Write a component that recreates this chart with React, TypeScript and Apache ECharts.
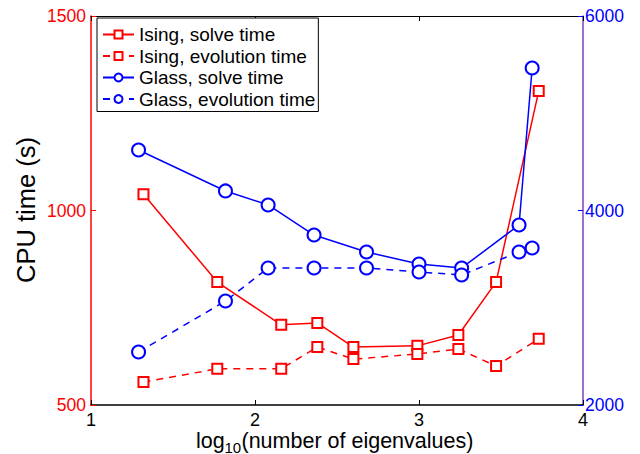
import React, { useEffect, useRef } from "react";
import * as echarts from "echarts";

const isingX = [1.32, 1.77, 2.16, 2.38, 2.6, 2.99, 3.24, 3.47, 3.73];
const isingSolve = [1042, 816, 706, 711, 649, 652, 680, 816, 1307];
const isingEvolution = [559, 593, 593, 649, 618, 631, 644, 600, 670];
const glassX = [1.29, 1.82, 2.08, 2.36, 2.68, 3.0, 3.26, 3.61, 3.69];
const glassSolve = [4622, 4201, 4057, 3748, 3573, 3450, 3409, 3851, 5465];
const glassEvolution = [2545, 3069, 3409, 3409, 3409, 3368, 3337, 3573, 3614];

const leftTicks = { min: 500, max: 1500, interval: 500 };
const rightTicks = { min: 2000, max: 6000, interval: 2000 };
const xTicks = { min: 1, max: 4, interval: 1 };

const pairs = (xs: number[], ys: number[]) => xs.map((x, i) => [x, ys[i]]);

const FONT = "Liberation Sans";
const plain = (v: number) => String(v);

export default function App() {
  const ref = useRef<HTMLDivElement>(null);
  useEffect(() => {
    if (!ref.current) return;
    const chart = echarts.init(ref.current, null, { renderer: "svg" });
    const red = "#ff0000";
    const blue = "#0000ff";
    const lineCommon = { width: 1.5 };
    chart.setOption({
      animation: false,
      backgroundColor: "#fff",
      textStyle: { fontFamily: FONT },
      grid: { left: 91, right: 57, top: 16, bottom: 49, containLabel: false },
      xAxis: [
        {
          type: "value",
          ...xTicks,
          position: "bottom",
          axisLine: { lineStyle: { color: "#000", width: 1.5 } },
          axisTick: { inside: true, length: 5, lineStyle: { color: "#000" } },
          axisLabel: { color: "#000", fontSize: 18, margin: 6, fontFamily: FONT, formatter: plain },
          splitLine: { show: false },
        },
        {
          type: "value",
          ...xTicks,
          position: "top",
          axisLine: { lineStyle: { color: "#000", width: 1 } },
          axisTick: { inside: true, length: 5, lineStyle: { color: "#000" } },
          axisLabel: { show: false },
          splitLine: { show: false },
        },
      ],
      yAxis: [
        {
          type: "value",
          ...leftTicks,
          position: "left",
          axisLine: { show: true, lineStyle: { color: red, width: 1.5 } },
          axisTick: { show: true, inside: true, length: 5, lineStyle: { color: red } },
          axisLabel: { color: red, fontSize: 17.5, margin: 5, fontFamily: FONT, formatter: plain },
          splitLine: { show: false },
        },
        {
          type: "value",
          ...rightTicks,
          position: "right",
          axisLine: { show: true, lineStyle: { color: "#7f3fbf", width: 1.5 } },
          axisTick: { show: true, inside: true, length: 5, lineStyle: { color: blue } },
          axisLabel: { color: blue, fontSize: 17.5, margin: 2, fontFamily: FONT, formatter: plain },
          splitLine: { show: false },
        },
      ],
      legend: {
        orient: "vertical",
        left: 97,
        top: 18,
        backgroundColor: "#fff",
        borderColor: "#000",
        borderWidth: 1,
        borderRadius: 0,
        padding: [7, 3, 3, 5],
        itemWidth: 31,
        itemHeight: 10,
        itemGap: 2.5,
        textStyle: { fontSize: 19, lineHeight: 19, color: "#000", fontFamily: FONT },
        data: [
          "Ising, solve time",
          "Ising, evolution time",
          "Glass, solve time",
          "Glass, evolution time",
        ],
      },
      series: [
        {
          name: "Ising, solve time",
          type: "line",
          yAxisIndex: 0,
          data: pairs(isingX, isingSolve),
          symbol: "emptyRect",
          symbolSize: 10,
          color: red,
          lineStyle: { ...lineCommon, color: red },
          itemStyle: { color: red, borderWidth: 1.5 },
          z: 3,
        },
        {
          name: "Ising, evolution time",
          type: "line",
          yAxisIndex: 0,
          data: pairs(isingX, isingEvolution),
          symbol: "emptyRect",
          symbolSize: 10,
          color: red,
          lineStyle: { ...lineCommon, color: red, type: [7, 6] },
          itemStyle: { color: red, borderWidth: 1.5 },
          z: 3,
        },
        {
          name: "Glass, solve time",
          type: "line",
          yAxisIndex: 1,
          data: pairs(glassX, glassSolve),
          symbol: "emptyCircle",
          symbolSize: 13,
          color: blue,
          lineStyle: { ...lineCommon, color: blue },
          itemStyle: { color: blue, borderWidth: 1.5 },
          z: 3,
        },
        {
          name: "Glass, evolution time",
          type: "line",
          yAxisIndex: 1,
          data: pairs(glassX, glassEvolution),
          symbol: "emptyCircle",
          symbolSize: 13,
          color: blue,
          lineStyle: { ...lineCommon, color: blue, type: [7, 6] },
          itemStyle: { color: blue, borderWidth: 1.5 },
          z: 3,
        },
      ],
      graphic: [
        {
          type: "text",
          x: 26,
          y: 210,
          rotation: Math.PI / 2,
          style: {
            text: "CPU time (s)",
            fontSize: 25.5,
            fontFamily: FONT,
            fill: "#000",
            align: "center",
            verticalAlign: "middle",
          },
        },
        {
          type: "text",
          x: 196,
          y: 441,
          style: {
            text: "log",
            fontSize: 21.5,
            fontFamily: FONT,
            fill: "#000",
            align: "left",
            verticalAlign: "middle",
          },
        },
        {
          type: "text",
          x: 224.5,
          y: 447,
          style: {
            text: "10",
            fontSize: 15,
            fontFamily: FONT,
            fill: "#000",
            align: "left",
            verticalAlign: "middle",
          },
        },
        {
          type: "text",
          x: 241.5,
          y: 441,
          style: {
            text: "(number of eigenvalues)",
            fontSize: 21.5,
            fontFamily: FONT,
            fill: "#000",
            align: "left",
            verticalAlign: "middle",
          },
        },
      ],
    });
    return () => chart.dispose();
  }, []);
  return (
    <div
      ref={ref}
      style={{ position: "fixed", left: 0, top: 0, width: 640, height: 454, background: "#fff" }}
    />
  );
}
